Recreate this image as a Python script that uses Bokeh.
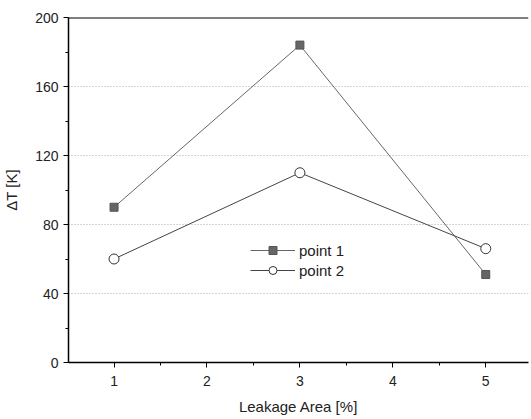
from bokeh.plotting import figure
from bokeh.models import Range1d, FixedTicker, Span, Legend, LegendItem
from bokeh.embed import file_html
from bokeh.resources import INLINE

x_vals = [1, 3, 5]
point1 = [90, 184, 51]
point2 = [60, 110, 66]
x_ticks = [1, 2, 3, 4, 5]
x_minor = [1.5, 2.5, 3.5, 4.5, 5.5]
y_ticks = [0, 40, 80, 120, 160, 200]
y_minor = [20, 60, 100, 140, 180]

FONT = "Liberation Sans"

p = figure(output_backend="svg", toolbar_location=None,
           frame_width=460, frame_height=345,
           min_border_left=66, min_border_top=17, min_border_right=1, min_border_bottom=40,
           x_range=Range1d(0.51, 5.46), y_range=Range1d(0, 200))
p.outline_line_color = None
p.background_fill_color = "white"
p.border_fill_color = "white"

# axes
for ax in (p.xaxis[0], p.yaxis[0]):
    ax.axis_line_color = "black"
    ax.axis_line_width = 1.5
    ax.major_tick_line_color = "black"
    ax.minor_tick_line_color = "black"
    ax.major_tick_out = 5
    ax.major_tick_in = 0
    ax.minor_tick_out = 3
    ax.minor_tick_in = 0
    ax.major_label_text_font = FONT
    ax.major_label_text_font_size = "14px"
    ax.major_label_text_color = "#222222"
    ax.axis_label_text_font = FONT
    ax.axis_label_text_font_size = "15px"
    ax.axis_label_text_font_style = "normal"
    ax.axis_label_text_color = "#222222"

p.xaxis.ticker = FixedTicker(ticks=x_ticks, minor_ticks=x_minor)
p.yaxis.ticker = FixedTicker(ticks=y_ticks, minor_ticks=y_minor)
p.xaxis.axis_label = "Leakage Area [%]"
p.yaxis.axis_label = "\u0394T [K]"
p.xaxis.major_label_standoff = 8
p.xaxis.axis_label_standoff = 9
p.yaxis.axis_label_standoff = 12

p.xgrid.grid_line_color = None
p.ygrid.ticker = FixedTicker(ticks=[40, 80, 120, 160])
p.ygrid.grid_line_color = "#aaaaaa"
p.ygrid.grid_line_dash = "1 2"
p.ygrid.grid_line_width = 1

# top border line
p.add_layout(Span(location=200, dimension="width", line_color="black", line_width=2))

l1 = p.line(x_vals, point1, line_color="#666666", line_width=1)
m1 = p.scatter(x_vals, point1, marker="square", size=8, fill_color="#666666",
               line_color="#555555", line_width=1)
l2 = p.line(x_vals, point2, line_color="#444444", line_width=1)
m2 = p.scatter(x_vals, point2, marker="circle", size=10, fill_color="white",
               line_color="#333333", line_width=1)

legend = Legend(items=[LegendItem(label="point 1", renderers=[l1, m1]),
                       LegendItem(label="point 2", renderers=[l2, m2])],
                location=(182, 82))
legend.background_fill_alpha = 0
legend.border_line_color = None
legend.padding = 0
legend.margin = 0
legend.spacing = 0
legend.glyph_width = 45
legend.glyph_height = 20
legend.label_standoff = 4
legend.label_text_font = FONT
legend.label_text_font_size = "15px"
legend.label_text_color = "#222222"
p.add_layout(legend, "center")

open("out.html", "w").write(file_html(p, INLINE))
